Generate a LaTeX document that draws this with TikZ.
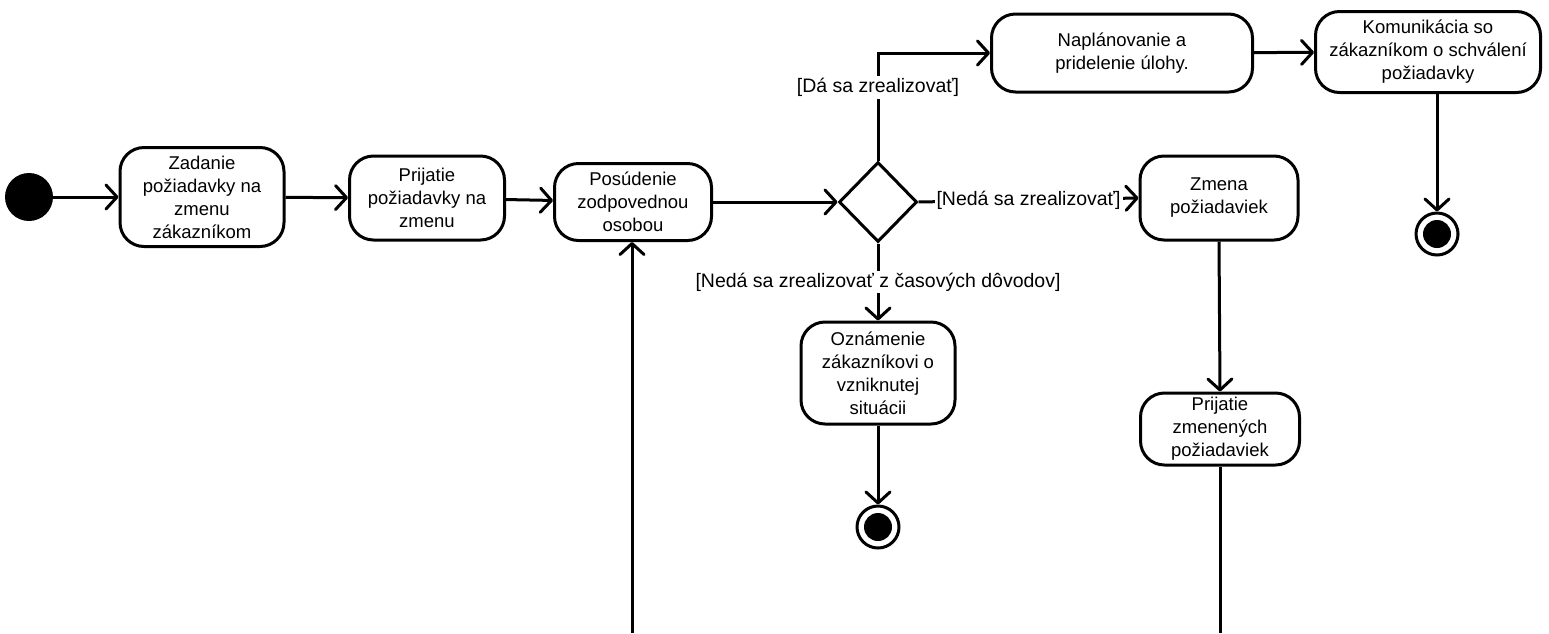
\documentclass[tikz,border=0pt]{standalone}
\usepackage{fontspec}
\setmainfont{Liberation Sans}
\usetikzlibrary{arrows.meta,shapes.geometric}
\begin{document}
\begin{tikzpicture}[x=1pt,y=-1pt,
  every node/.style={font=\fontsize{18.5}{23}\selectfont},
  act/.style={draw,line width=3pt,rounded corners=24pt,align=center,inner sep=2pt},
  flow/.style={line width=3pt,-{Straight Barb[length=11pt,width=24pt,line width=3pt,round]}},
  lbl/.style={fill=white,inner sep=2pt,font=\fontsize{19.5}{23}\selectfont},
  startnode/.style={circle,fill=black,minimum size=48pt,inner sep=0pt},
  endnode/.style={circle,draw,line width=3pt,minimum size=42pt,inner sep=0pt,
    path picture={\fill (path picture bounding box.center) circle (14pt);}},
  dec/.style={diamond,draw,line width=3pt,minimum width=78pt,minimum height=80pt,inner sep=0pt,aspect=1}
]
\useasboundingbox (0,0) rectangle (1549,633);

\node[startnode] (s) at (29,197) {};
\node[act,minimum width=164pt,minimum height=99pt] (a1) at (202,197) {Zadanie\\požiadavky na\\zmenu\\zákazníkom};
\node[act,minimum width=155pt,minimum height=84pt] (a2) at (427,198) {Prijatie\\požiadavky na\\zmenu};
\node[act,minimum width=157pt,minimum height=77pt] (a3) at (633,202) {Posúdenie\\zodpovednou\\osobou};
\node[dec] (d) at (878,202) {};
\node[act,minimum width=261pt,minimum height=78pt] (a4) at (1122,53) {Naplánovanie a\\pridelenie úlohy.};
\node[act,minimum width=225pt,minimum height=81pt] (a5) at (1428,52) {Komunikácia so\\zákazníkom o schválení\\požiadavky};
\node[endnode] (f1) at (1437,234) {};
\node[act,minimum width=158pt,minimum height=84pt] (a6) at (1219,198) {Zmena\\požiadaviek};
\node[act,minimum width=159pt,minimum height=72pt] (a7) at (1220,429) {Prijatie\\zmenených\\požiadaviek};
\node[act,minimum width=154pt,minimum height=102pt] (a8) at (878,373) {Oznámenie\\zákazníkovi o\\vzniknutej\\situácii};
\node[endnode] (f2) at (878,527) {};
\coordinate (b1) at (632,633);
\coordinate (b2) at (1220,633);

\draw[flow] (s) -- (a1);
\draw[flow] (a1) -- (a2);
\draw[flow] (a2) -- (a3);
\draw[flow] (a3) -- (d);
\draw[flow] (d.north) |- node[lbl,pos=0.34] {[Dá sa zrealizovať]} (a4.west);
\draw[flow] (a4) -- (a5);
\draw[flow] (a5.south -| f1) -- (f1);
\draw[flow] (d.east) -- node[lbl] {[Nedá sa zrealizovať]} (a6.west);
\draw[flow] (a6.south) -- (a7.north);
\draw[line width=3pt] (a7.south) -- (b2);
\draw[flow] (b1) -- (b1 |- a3.south);
\draw[flow] (d.south) -- node[lbl] {[Nedá sa zrealizovať z časových dôvodov]} (a8.north);
\draw[flow] (a8) -- (f2);
\end{tikzpicture}
\end{document}
